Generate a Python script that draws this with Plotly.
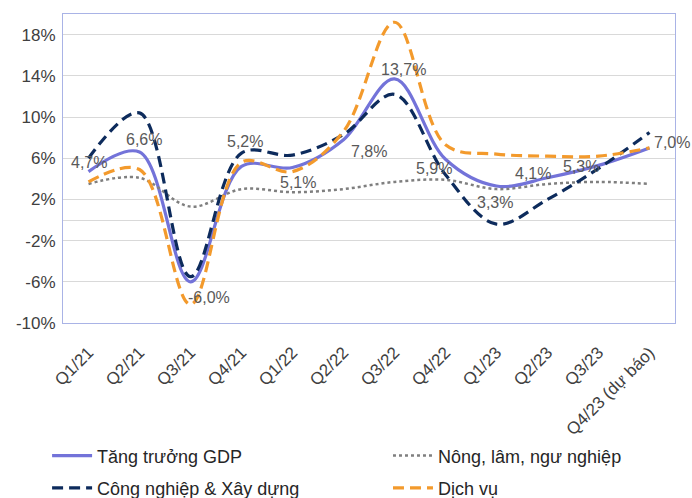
import plotly.graph_objects as go

quarters = ["Q1/21", "Q2/21", "Q3/21", "Q4/21", "Q1/22", "Q2/22", "Q3/22",
            "Q4/22", "Q1/23", "Q2/23", "Q3/23", "Q4/23 (dự báo)"]

gdp = [4.7, 6.6, -6.0, 5.2, 5.1, 7.8, 13.7, 5.9, 3.3, 4.1, 5.3, 7.0]
agriculture = [3.5, 4.1, 1.3, 3.0, 2.7, 3.0, 3.7, 3.9, 3.0, 3.5, 3.7, 3.5]
industry = [6.0, 10.4, -5.5, 6.5, 6.3, 8.3, 12.2, 4.4, -0.4, 2.0, 5.0, 8.5]
services = [3.7, 4.9, -8.2, 5.6, 4.7, 8.6, 19.2, 7.3, 6.4, 6.2, 6.2, 7.0]

y_ticks = [-10, -6, -2, 2, 6, 10, 14, 18]
y_tick_text = ["-10%", "-6%", "-2%", "2%", "6%", "10%", "14%", "18%"]

# per-label offsets (pixels) for the GDP value labels
label_dx = [0, 4, 18, 3, 5, 25, 9, -12, -2, -15, -18, 22]
label_dy = [9, 13, -16, 25, -15, -12, 9, -9, -16, 4, -1, 5]

FONT = "Liberation Sans, Arial"

fig = go.Figure()

fig.add_trace(go.Scatter(
    x=quarters, y=gdp, name="Tăng trưởng GDP", mode="lines", legend="legend",
    line=dict(color="#7373D9", width=3.2, shape="spline", smoothing=1.0)))
fig.add_trace(go.Scatter(
    x=quarters, y=agriculture, name="Nông, lâm, ngư nghiệp", mode="lines", legend="legend2",
    line=dict(color="#7F7F7F", width=2.5, dash="dot", shape="spline", smoothing=1.0)))
fig.add_trace(go.Scatter(
    x=quarters, y=industry, name="Công nghiệp & Xây dựng", mode="lines", legend="legend3",
    line=dict(color="#0D2B5C", width=3.2, dash="11px,6px", shape="spline", smoothing=1.0)))
fig.add_trace(go.Scatter(
    x=quarters, y=services, name="Dịch vụ", mode="lines", legend="legend4",
    line=dict(color="#F39A2C", width=3.2, dash="11px,6px", shape="spline", smoothing=1.0)))

for q, v, dx, dy in zip(quarters, gdp, label_dx, label_dy):
    fig.add_annotation(
        x=q, y=v, text=f"{v:.1f}".replace(".", ",") + "%",
        showarrow=False, xshift=dx, yshift=dy, xanchor="center", yanchor="middle",
        font=dict(family=FONT, size=16, color="#595959"))

legend_common = dict(
    orientation="h", xanchor="left", yanchor="top",
    font=dict(family=FONT, size=18, color="#262626"),
    itemwidth=40, bgcolor="rgba(0,0,0,0)")

col1_x, col2_x = -0.026, 0.531
row1_y, row2_y = -0.37, -0.475

fig.update_layout(
    width=692, height=498,
    margin=dict(l=63, r=17, t=14, b=175, autoexpand=False),
    paper_bgcolor="white", plot_bgcolor="white",
    font=dict(family=FONT, color="#404040"),
    showlegend=True,
    legend=dict(x=col1_x, y=row1_y, **legend_common),
    legend2=dict(x=col2_x, y=row1_y, **legend_common),
    legend3=dict(x=col1_x, y=row2_y, **legend_common),
    legend4=dict(x=col2_x, y=row2_y, **legend_common),
)

fig.update_xaxes(
    type="category", range=[-0.5, len(quarters) - 0.5], tickangle=-45, automargin=False,
    tickfont=dict(family=FONT, size=17, color="#404040"),
    ticklabelstandoff=12,
    showgrid=False, showline=True, mirror=True,
    linecolor="#A9B3E6", linewidth=1, ticks="")

fig.update_yaxes(
    range=[-10, 20], tickvals=y_ticks, ticktext=y_tick_text,
    tickfont=dict(family=FONT, size=17, color="#404040"),
    ticklabelstandoff=3, automargin=False,
    showgrid=True, gridcolor="#D9D9D9", gridwidth=1,
    zeroline=True, zerolinecolor="#D9D9D9", zerolinewidth=1,
    showline=True, mirror=True, linecolor="#A9B3E6", linewidth=1,
    ticks="")

fig.write_html("out.html")
